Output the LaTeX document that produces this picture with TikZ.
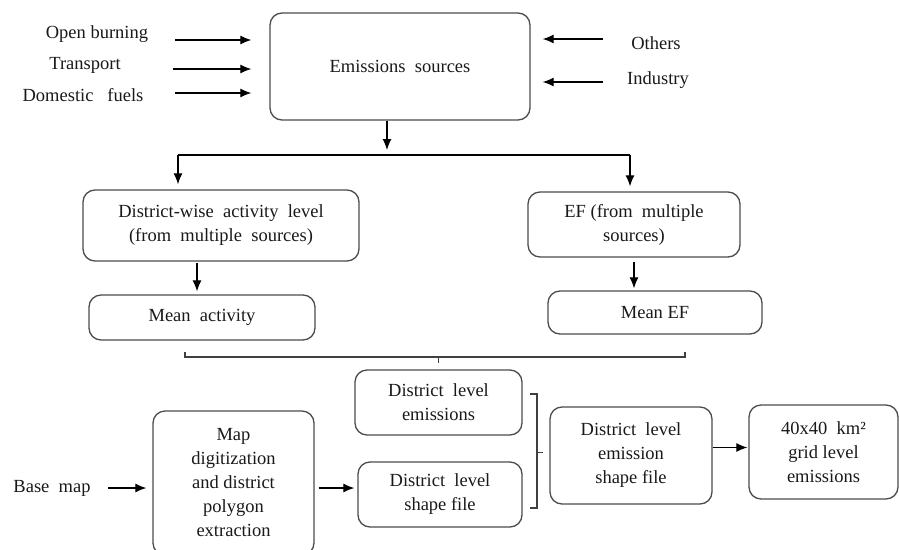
\documentclass[tikz,border=0pt]{standalone}
\usepackage{fontspec}
\setmainfont{Liberation Serif}
\usepackage{tikz}
\usetikzlibrary{arrows.meta}

\begin{document}
\begin{tikzpicture}[x=1pt, y=-1pt,
        every node/.style={font=\fontsize{18.5}{24}\selectfont, text=black!90},
        box/.style={draw=black!70, line width=1.3pt, rounded corners=12pt, align=center, inner sep=2pt},
        arr/.style={draw, line width=1.2pt, -{Latex[length=11pt,width=9pt]}},
        brk/.style={draw=black!75, line width=1.1pt}]
        \useasboundingbox (0,0) rectangle (899,549);
        % top row
        \node[box, minimum width=260pt, minimum height=107pt] (src) at (400,66.5){Emissions\ \ sources};
        \node (ob) at (97,34){Open burning};
        \node (tr) at (85,65){Transport};
        \node (df) at (83,95){Domestic\ \ \ fuels};
        \node (oth) at (656,43){Others};
        \node (ind) at (658,80){Industry};
        \coordinate (ob-t) at (175,40);
        \coordinate (tr-t) at (173,69);
        \coordinate (df-t) at (175,93);
        \coordinate (oth-t) at (603,39);
        \coordinate (ind-t) at (603,82);
        \path[arr, shorten >=18pt] (ob-t) -- (ob-t -| src.west);
        \path[arr, shorten >=18pt] (tr-t) -- (tr-t -| src.west);
        \path[arr, shorten >=18pt] (df-t) -- (df-t -| src.west);
        \path[arr, shorten >=12pt] (oth-t) -- (oth-t -| src.east);
        \path[arr, shorten >=12pt] (ind-t) -- (ind-t -| src.east);
        % split
        \coordinate (split) at (387,155);
        \coordinate (lf) at (178,155);
        \coordinate (rf) at (630,155);
        \path[arr, shorten >=5pt] (split |- src.south) -- (split);
        \path[draw, line width=1.2pt] (lf) -- (rf);
        % activity and EF
        \node[box, minimum width=276pt, minimum height=71pt] (dwa) at (221,225.5){District-wise\ \ activity\ \ level\\(from\ \ multiple\ \ sources)};
        \node[box, minimum width=212pt, minimum height=65pt] (ef) at (634,224.5){EF\ (from\ \ multiple\\sources)};
        \node[box, minimum width=226pt, minimum height=45pt] (ma) at (202,317.5){Mean\ \ activity};
        \node[box, minimum width=214pt, minimum height=43pt] (mef) at (655,312.5){Mean EF};
        \path[arr, shorten >=5pt] (lf) -- (lf |- dwa.north);
        \path[arr, shorten >=5pt] (rf) -- (rf |- ef.north);
        \path[arr, shorten <=1pt, shorten >=3pt] ([xshift=-24pt]dwa.south) -- ([xshift=-24pt]dwa.south |- ma.north);
        \path[arr, shorten <=4pt, shorten >=2pt] (ef.south) -- (ef.south |- mef.north);
        % bracket under means
        \coordinate (bl) at (185,357);
        \coordinate (br) at (685,357);
        \path[brk] ([yshift=5pt]bl) -- (bl) -- (br) -- ([yshift=5pt]br);
        % bottom row
        \node[box, minimum width=167pt, minimum height=65pt] (dle) at (438.5,402.5){District\ \ level\\emissions};
        \node[box, minimum width=164pt, minimum height=65pt] (dsf) at (440,494.5){District\ \ level\\shape file};
        \node[box, minimum width=161pt, minimum height=144pt] (map) at (233.5,483){Map\\digitization\\and district\\polygon\\extraction};
        \node (base) at (52,488){Base\ \ map};
        \node[box, minimum width=162pt, minimum height=97pt] (desf) at (631,455.5){District\ \ level\\emission\\shape file};
        \node[box, minimum width=149pt, minimum height=94pt] (grid) at (823.5,452){40x40\ \ km²\\grid level\\emissions};
        \path[brk] (dle.north |- bl) -- ++(0,6);
        \path[arr, shorten <=14pt, shorten >=6pt] (base.east) -- (base.east -| map.west);
        \path[arr, shorten <=4pt, shorten >=3pt] (map.east |- base.east) -- (dsf.west |- base.east);
        % bracket joining both district boxes
        \coordinate (rb-t) at (537,394);
        \coordinate (rb-b) at (537,508);
        \path[brk] ([xshift=-7pt]rb-t) -- (rb-t) -- (rb-b) -- ([xshift=-7pt]rb-b);
        \path[brk] (rb-t |- desf.center) ++(0,-3) -- ++(6,0);
        \path[arr, shorten >=1pt] ([yshift=8pt]desf.east) -- ([yshift=8pt]desf.east -| grid.west);
    \end{tikzpicture}
\end{document}
